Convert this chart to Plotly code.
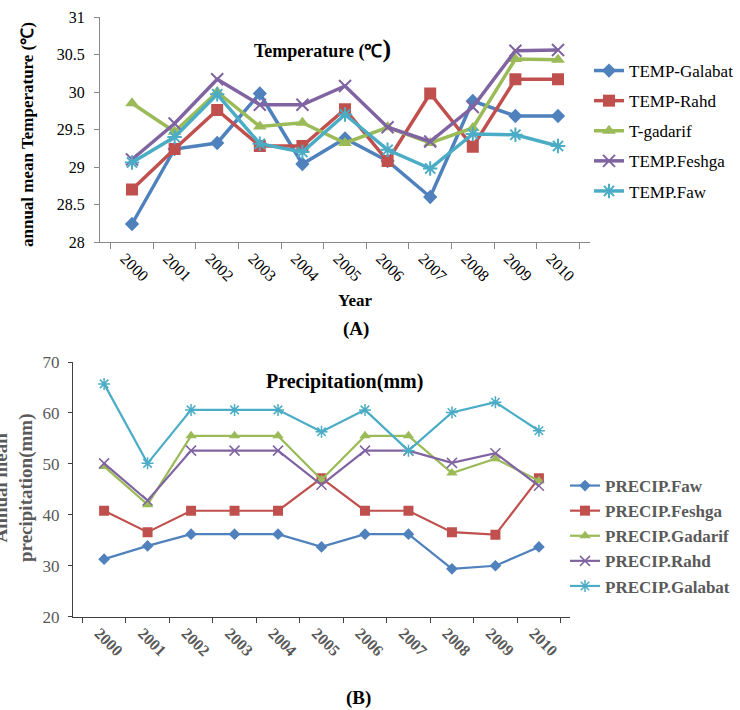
import plotly.graph_objects as go

years = ["2000", "2001", "2002", "2003", "2004", "2005", "2006", "2007", "2008", "2009", "2010"]

# Temperature (A)
temp_galabat = [28.24, 29.24, 29.32, 29.98, 29.04, 29.38, 29.08, 28.60, 29.88, 29.68, 29.68]
temp_rahd    = [28.70, 29.24, 29.76, 29.28, 29.28, 29.77, 29.08, 29.98, 29.27, 30.17, 30.17]
temp_gadarif = [29.85, 29.47, 30.00, 29.54, 29.59, 29.32, 29.53, 29.32, 29.52, 30.44, 30.43]
temp_feshga  = [29.10, 29.58, 30.17, 29.83, 29.83, 30.08, 29.53, 29.34, 29.80, 30.55, 30.56]
temp_faw     = [29.06, 29.40, 29.97, 29.31, 29.20, 29.70, 29.23, 28.98, 29.44, 29.43, 29.28]

# Precipitation (B)
prec_faw     = [31.3, 33.9, 36.2, 36.2, 36.2, 33.7, 36.2, 36.2, 29.4, 30.0, 33.7]
prec_feshga  = [40.8, 36.6, 40.8, 40.8, 40.8, 47.2, 40.8, 40.8, 36.6, 36.1, 47.2]
prec_gadarif = [49.5, 42.0, 55.5, 55.5, 55.5, 46.9, 55.5, 55.5, 48.2, 51.0, 46.7]
prec_rahd    = [50.1, 42.8, 52.6, 52.6, 52.6, 45.9, 52.6, 52.6, 50.2, 52.1, 45.7]
prec_galabat = [65.7, 50.1, 60.6, 60.6, 60.6, 56.3, 60.6, 52.6, 60.1, 62.1, 56.5]

BLUE, RED, GREEN, PURPLE, CYAN = "#4F81BD", "#C0504D", "#9BBB59", "#8064A2", "#4BACC6"
SERIF = "Liberation Serif, Times New Roman, serif"
GRAY = "#595959"

W, H = 740, 710
def px(x): return x / W
def py(y): return 1 - y / H

fig = go.Figure()

top_series = [
    ("TEMP-Galabat", temp_galabat, BLUE, "diamond", 11),
    ("TEMP-Rahd", temp_rahd, RED, "square", 12),
    ("T-gadarif", temp_gadarif, GREEN, "triangle-up", 12),
    ("TEMP.Feshga", temp_feshga, PURPLE, "x-thin-open", 12),
    ("TEMP.Faw", temp_faw, CYAN, "asterisk-open", 12),
]
for i, (name, vals, col, sym, sz) in enumerate(top_series):
    open_sym = sym.endswith("open")
    fig.add_trace(go.Scatter(
        x=years, y=vals, name=name, mode="lines+markers",
        line=dict(color=col, width=3.5),
        marker=dict(symbol=sym, size=sz, color=col,
                    line=dict(color=col, width=2 if open_sym else 0)),
        xaxis="x", yaxis="y", legend="legend", legendgroup="t%d" % i,
    ))

bot_series = [
    ("PRECIP.Faw", prec_faw, BLUE, "diamond", 9),
    ("PRECIP.Feshga", prec_feshga, RED, "square", 10),
    ("PRECIP.Gadarif", prec_gadarif, GREEN, "triangle-up", 10),
    ("PRECIP.Rahd", prec_rahd, PURPLE, "x-thin-open", 10),
    ("PRECIP.Galabat", prec_galabat, CYAN, "asterisk-open", 10),
]
for i, (name, vals, col, sym, sz) in enumerate(bot_series):
    open_sym = sym.endswith("open")
    fig.add_trace(go.Scatter(
        x=years, y=vals, name=name, mode="lines+markers",
        line=dict(color=col, width=2.2),
        marker=dict(symbol=sym, size=sz, color=col,
                    line=dict(color=col, width=1.5 if open_sym else 0)),
        xaxis="x2", yaxis="y2", legend="legend2", legendgroup="p%d" % i,
    ))

fig.update_layout(
    width=W, height=H,
    margin=dict(l=0, r=0, t=0, b=0, pad=0, autoexpand=False),
    paper_bgcolor="white", plot_bgcolor="white",
    font=dict(family=SERIF, color="black"),
    xaxis=dict(domain=[px(100), px(590)], anchor="y", type="category", automargin=False,
               showline=True, linecolor="#888888", linewidth=1,
               ticks="outside", ticklen=6, tickcolor="#888888", tickson="boundaries",
               tickangle=45, tickfont=dict(size=16, family=SERIF, color="black"),
               ticklabelshift=-7, showgrid=False, zeroline=False),
    yaxis=dict(domain=[py(242), py(17)], anchor="x", range=[28, 31], dtick=0.5, automargin=False,
               showline=True, linecolor="#888888", linewidth=1,
               ticks="outside", ticklen=5, tickcolor="#888888",
               tickfont=dict(size=16, family=SERIF, color="black"),
               ticklabelstandoff=6, showgrid=False, zeroline=False),
    xaxis2=dict(domain=[px(73), px(570)], anchor="y2", type="category", automargin=False,
                showline=True, linecolor="#404040", linewidth=1,
                ticks="outside", ticklen=5, tickcolor="#404040", tickson="boundaries",
                tickangle=45, tickfont=dict(size=16, family=SERIF, color=GRAY, weight="bold"),
                ticklabelshift=-5, showgrid=False, zeroline=False),
    yaxis2=dict(domain=[py(616.7), py(362)], anchor="x2", range=[20, 70], dtick=10, automargin=False,
                showline=True, linecolor="#404040", linewidth=1,
                ticks="outside", ticklen=4, tickcolor="#404040",
                tickfont=dict(size=17, family=SERIF, color=GRAY),
                ticklabelstandoff=5, showgrid=False, zeroline=False),
    legend=dict(x=px(589), y=py(53), xanchor="left", yanchor="top",
                font=dict(size=17, family=SERIF, color="black"),
                tracegroupgap=5, bgcolor="rgba(0,0,0,0)"),
    legend2=dict(x=px(565), y=py(468), xanchor="left", yanchor="top",
                 font=dict(size=17, family=SERIF, color=GRAY, weight="bold"),
                 tracegroupgap=0, bgcolor="rgba(0,0,0,0)"),
    showlegend=True,
)

ann = [
    dict(text="<b>Temperature (℃<span style='font-size:26px'>)</span></b>", x=px(322), y=py(48),
         font=dict(size=18, family=SERIF, color="black")),
    dict(text="<b>annual mean Temperature (℃)</b>", x=px(28), y=py(135), textangle=-90,
         font=dict(size=17, family=SERIF, color="black")),
    dict(text="<b>Year</b>", x=px(355), y=py(300), font=dict(size=17, family=SERIF, color="black")),
    dict(text="<b>(A)</b>", x=px(356), y=py(329), font=dict(size=19, family=SERIF, color="black")),
    dict(text="<b>Precipitation(mm)</b>", x=px(344), y=py(382), font=dict(size=20, family=SERIF, color="black")),
    dict(text="<b>Annual mean<br>precipitation(mm)</b>", x=px(13), y=py(488), textangle=-90,
         font=dict(size=19, family=SERIF, color=GRAY)),
    dict(text="<b>(B)</b>", x=px(358), y=py(698), font=dict(size=19, family=SERIF, color="black")),
]
for a in ann:
    a.update(xref="paper", yref="paper", showarrow=False, xanchor="center", yanchor="middle")
    fig.add_annotation(**a)

fig.write_html("out.html", config={"displayModeBar": False},
               post_script="document.body.style.margin='0';")
